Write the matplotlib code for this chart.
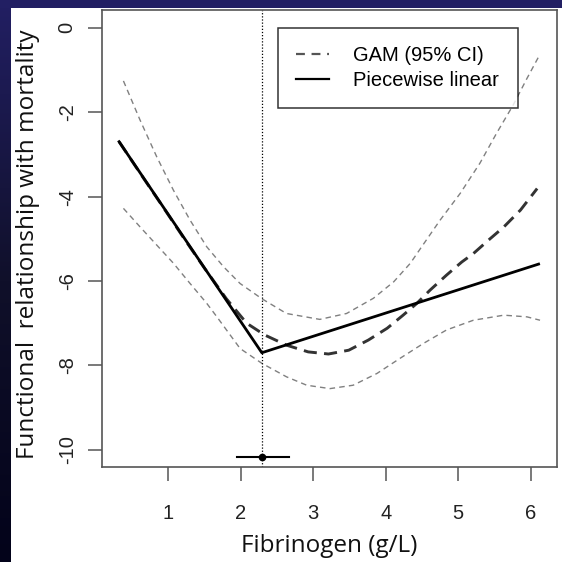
import numpy as np
import matplotlib
matplotlib.use("Agg")
import matplotlib.pyplot as plt
from matplotlib.lines import Line2D
from matplotlib.patches import Rectangle

# piecewise linear fit (start, knot, end)
pl_x = [0.32, 2.29, 6.11]
pl_y = [-2.70, -7.70, -5.60]

# GAM estimate
gam_x = [0.32, 0.6, 0.9, 1.2, 1.5, 1.8, 2.08, 2.33, 2.63, 2.93, 3.21, 3.49, 3.76,
         4.02, 4.24, 4.43, 4.61, 4.84, 5.05, 5.21, 5.42, 5.63, 5.86, 6.09]
gam_y = [-2.70, -3.42, -4.18, -4.95, -5.70, -6.42, -7.00, -7.28, -7.52, -7.68, -7.73, -7.64, -7.40,
         -7.12, -6.81, -6.53, -6.22, -5.86, -5.55, -5.35, -5.03, -4.72, -4.32, -3.81]

# 95% CI bands
up_x = [0.38, 0.61, 0.84, 1.07, 1.30, 1.53, 1.76, 1.99, 2.29, 2.63, 3.09, 3.46, 3.83,
        4.11, 4.34, 4.48, 4.75, 5.03, 5.30, 5.53, 5.76, 5.95, 6.11]
up_y = [-1.26, -2.19, -3.06, -3.85, -4.56, -5.19, -5.66, -6.06, -6.42, -6.77, -6.91, -6.77, -6.41,
        -6.02, -5.58, -5.23, -4.56, -3.92, -3.21, -2.50, -1.83, -1.20, -0.69]
lo_x = [0.38, 0.61, 0.84, 1.07, 1.30, 1.53, 1.67, 1.99, 2.29, 2.63, 2.91, 3.23, 3.55,
        3.88, 4.20, 4.52, 4.84, 5.21, 5.63, 5.95, 6.13]
lo_y = [-4.28, -4.72, -5.15, -5.58, -6.06, -6.53, -6.85, -7.60, -7.95, -8.27, -8.47, -8.55, -8.47,
        -8.19, -7.83, -7.48, -7.16, -6.93, -6.81, -6.85, -6.93]

# breakpoint estimate with interval
knot = 2.29
knot_lo = 1.95
knot_hi = 2.66
knot_marker_y = -10.17

x_ticks = [1, 2, 3, 4, 5, 6]
y_ticks = [0, -2, -4, -6, -8, -10]


def main():
    fig = plt.figure(figsize=(5.62, 5.62), dpi=100)
    fig.patch.set_facecolor("white")

    # slide background strips
    fig.patches.append(Rectangle((0, 1 - 8 / 562), 1, 8 / 562, transform=fig.transFigure,
                                 facecolor="#221f63", edgecolor="none", zorder=0))
    bg = fig.add_axes([0, 0, 10 / 562, 1])
    grad = np.linspace(0, 1, 256).reshape(-1, 1)
    cmap = matplotlib.colors.LinearSegmentedColormap.from_list("bg", ["#221f63", "#10102a", "#03031a"])
    bg.imshow(grad, aspect="auto", cmap=cmap)
    bg.axis("off")

    ax = fig.add_axes([101.7 / 562, 1 - 466.7 / 562, 455 / 562, 456.7 / 562])

    ax.plot(up_x, up_y, color="#808080", lw=1.0, dashes=(4, 3))
    ax.plot(lo_x, lo_y, color="#808080", lw=1.0, dashes=(4, 3))
    ax.plot(gam_x, gam_y, color="#333333", lw=2.1, dashes=(4.5, 2.5))
    ax.plot(pl_x, pl_y, color="black", lw=2.0)
    ax.axvline(knot, color="black", lw=0.9, ls=(0, (1, 1.5)))
    ax.plot([knot_lo, knot_hi], [knot_marker_y, knot_marker_y], color="black", lw=1.5)
    ax.plot([knot], [knot_marker_y], "o", color="black", ms=4.5)

    ax.set_xlim(0.08, 6.36)
    ax.set_ylim(-10.4, 0.42)
    ax.set_xticks(x_ticks)
    ax.set_yticks(y_ticks)
    ax.set_xticklabels([str(t) for t in x_ticks], fontsize=14.5, family="Liberation Sans", color="#222222")
    ax.set_yticklabels([str(t) for t in y_ticks], fontsize=14.5, family="Liberation Sans",
                       rotation=90, va="center", color="#222222")
    ax.tick_params(axis="x", length=10, width=1.1, color="#555555", pad=17)
    ax.tick_params(axis="y", length=10, width=1.1, color="#555555", pad=8)
    for s in ax.spines.values():
        s.set_color("#555555")
        s.set_linewidth(1.2)

    handles = [Line2D([], [], color="#555555", lw=1.6, dashes=(4, 3)),
               Line2D([], [], color="black", lw=1.6)]
    leg = ax.legend(handles, ["GAM (95% CI)", "Piecewise linear"],
                    bbox_to_anchor=(0.387, 0.799, 0.528, 0.162), loc="upper left", mode="expand",
                    prop={"family": "Liberation Sans", "size": 14.5}, fancybox=False,
                    handlelength=1.65, handletextpad=1.2, borderpad=0.9, labelspacing=0.3,
                    borderaxespad=0)
    leg.get_frame().set_edgecolor("black")
    leg.get_frame().set_linewidth(1.1)

    fig.text(329 / 562, 1 - 546 / 562, "Fibrinogen (g/L)", family="Open Sans", fontsize=17.5,
             ha="center", va="center", color="#111111")
    fig.text(28 / 562, 1 - 244 / 562, "Functional  relationship with mortality", family="Open Sans",
             fontsize=17.5, rotation=90, ha="center", va="center", color="#111111")

    fig.savefig("out.png", dpi=100)


if __name__ == "__main__":
    main()
